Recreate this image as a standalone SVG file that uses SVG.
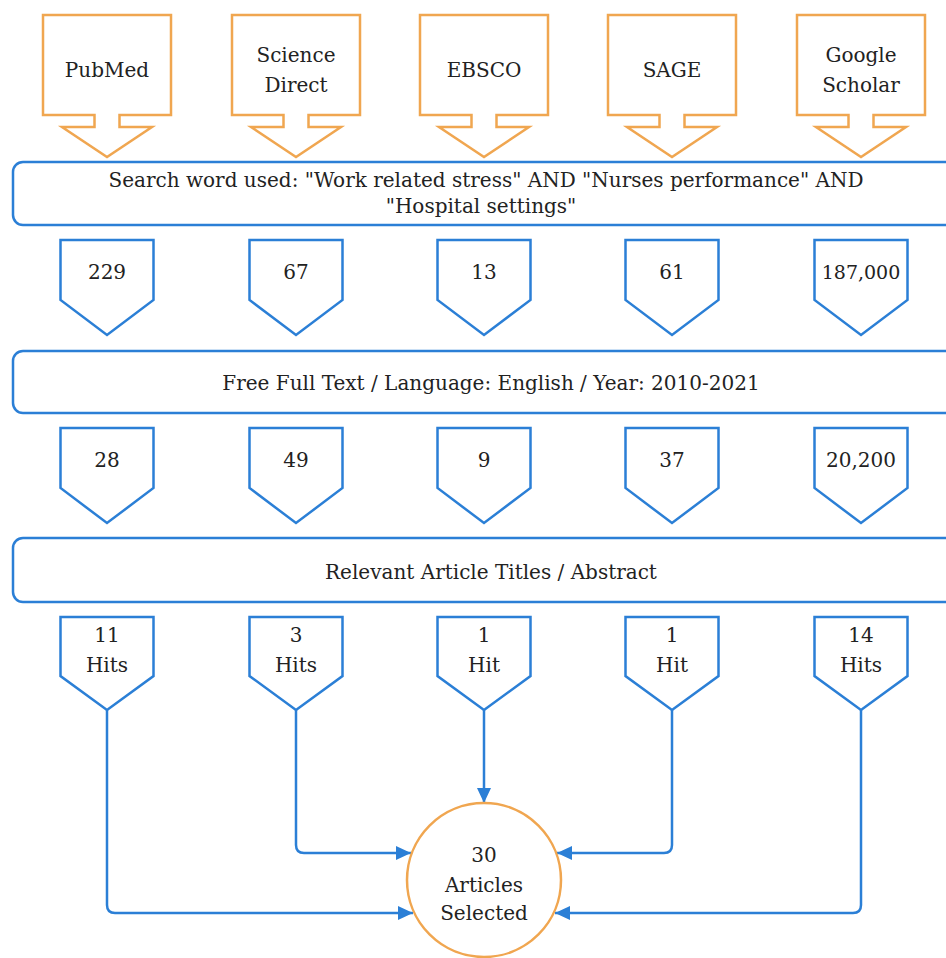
<svg xmlns="http://www.w3.org/2000/svg" width="946" height="958" viewBox="0 0 946 958">
<defs>
<style>
.src{fill:#fff;stroke:#F0A650;stroke-width:2.5;stroke-linejoin:miter}
.box{fill:#fff;stroke:#2B7FD6;stroke-width:2.5}
.pent{fill:#fff;stroke:#2B7FD6;stroke-width:2.5}
.con{fill:none;stroke:#2B7FD6;stroke-width:2.5}
.end{fill:#fff;stroke:#F0A650;stroke-width:2.5}
text{font-family:'DejaVu Serif',serif;font-size:20px;fill:#222;text-anchor:middle}
</style>
<marker id="arr" markerUnits="userSpaceOnUse" markerWidth="16" markerHeight="14" refX="15" refY="7" orient="auto">
<path d="M0,0 L15,7 L0,14 Z" fill="#2B7FD6"/>
</marker>
</defs>
<rect width="946" height="958" fill="#fff"/>
<g id="pubmed"><path class="src" d="M43,15 H171 V115 H119.5 V127 H152 L107,157 L62,127 H94.5 V115 H43 Z"/><text x="107" y="77">PubMed</text></g>
<g id="sciencedirect"><path class="src" d="M232,15 H360 V115 H308.5 V127 H341 L296,157 L251,127 H283.5 V115 H232 Z"/><text x="296" y="62">Science</text><text x="296" y="92">Direct</text></g>
<g id="ebsco"><path class="src" d="M420,15 H548 V115 H496.5 V127 H529 L484,157 L439,127 H471.5 V115 H420 Z"/><text x="484" y="77">EBSCO</text></g>
<g id="sage"><path class="src" d="M608,15 H736 V115 H684.5 V127 H717 L672,157 L627,127 H659.5 V115 H608 Z"/><text x="672" y="77">SAGE</text></g>
<g id="googlescholar"><path class="src" d="M797,15 H925 V115 H873.5 V127 H906 L861,157 L816,127 H848.5 V115 H797 Z"/><text x="861" y="62">Google</text><text x="861" y="92">Scholar</text></g>
<g id="search"><rect class="box" x="13" y="162" width="960" height="63" rx="10"/><text x="486" y="187">Search word used: "Work related stress" AND "Nurses performance" AND</text><text x="481" y="213">"Hospital settings"</text></g>
<g id="r1-pubmed"><path class="pent" d="M60.5,240 H153.5 V300 L107,335 L60.5,300 Z"/><text x="107" y="279">229</text></g>
<g id="r1-sciencedirect"><path class="pent" d="M249.5,240 H342.5 V300 L296,335 L249.5,300 Z"/><text x="296" y="279">67</text></g>
<g id="r1-ebsco"><path class="pent" d="M437.5,240 H530.5 V300 L484,335 L437.5,300 Z"/><text x="484" y="279">13</text></g>
<g id="r1-sage"><path class="pent" d="M625.5,240 H718.5 V300 L672,335 L625.5,300 Z"/><text x="672" y="279">61</text></g>
<g id="r1-google"><path class="pent" d="M814.5,240 H907.5 V300 L861,335 L814.5,300 Z"/><text x="861" y="279" style="font-size:19px">187,000</text></g>
<g id="filter"><rect class="box" x="13" y="351" width="960" height="62" rx="10"/><text x="491" y="390">Free Full Text / Language: English / Year: 2010-2021</text></g>
<g id="r2-pubmed"><path class="pent" d="M60.5,428 H153.5 V488 L107,523 L60.5,488 Z"/><text x="107" y="467">28</text></g>
<g id="r2-sciencedirect"><path class="pent" d="M249.5,428 H342.5 V488 L296,523 L249.5,488 Z"/><text x="296" y="467">49</text></g>
<g id="r2-ebsco"><path class="pent" d="M437.5,428 H530.5 V488 L484,523 L437.5,488 Z"/><text x="484" y="467">9</text></g>
<g id="r2-sage"><path class="pent" d="M625.5,428 H718.5 V488 L672,523 L625.5,488 Z"/><text x="672" y="467">37</text></g>
<g id="r2-google"><path class="pent" d="M814.5,428 H907.5 V488 L861,523 L814.5,488 Z"/><text x="861" y="467">20,200</text></g>
<g id="relevant"><rect class="box" x="13" y="538" width="960" height="64" rx="10"/><text x="491" y="579">Relevant Article Titles / Abstract</text></g>
<g id="r3-pubmed"><path class="pent" d="M60.5,617 H153.5 V676 L107,710 L60.5,676 Z"/><text x="107" y="642">11</text><text x="107" y="672">Hits</text></g>
<g id="r3-sciencedirect"><path class="pent" d="M249.5,617 H342.5 V676 L296,710 L249.5,676 Z"/><text x="296" y="642">3</text><text x="296" y="672">Hits</text></g>
<g id="r3-ebsco"><path class="pent" d="M437.5,617 H530.5 V676 L484,710 L437.5,676 Z"/><text x="484" y="642">1</text><text x="484" y="672">Hit</text></g>
<g id="r3-sage"><path class="pent" d="M625.5,617 H718.5 V676 L672,710 L625.5,676 Z"/><text x="672" y="642">1</text><text x="672" y="672">Hit</text></g>
<g id="r3-google"><path class="pent" d="M814.5,617 H907.5 V676 L861,710 L814.5,676 Z"/><text x="861" y="642">14</text><text x="861" y="672">Hits</text></g>
<g id="connectors">
<path class="con" marker-end="url(#arr)" d="M107,710 V905 Q107,913 115,913 H413"/>
<path class="con" marker-end="url(#arr)" d="M296,710 V845 Q296,853 304,853 H411"/>
<path class="con" marker-end="url(#arr)" d="M484,710 V803"/>
<path class="con" marker-end="url(#arr)" d="M672,710 V845 Q672,853 664,853 H557"/>
<path class="con" marker-end="url(#arr)" d="M861,710 V905 Q861,913 853,913 H555"/>
</g>
<g id="selected"><circle class="end" cx="484" cy="880" r="77"/><text x="484" y="862">30</text><text x="484" y="892">Articles</text><text x="484" y="920">Selected</text></g>
</svg>
